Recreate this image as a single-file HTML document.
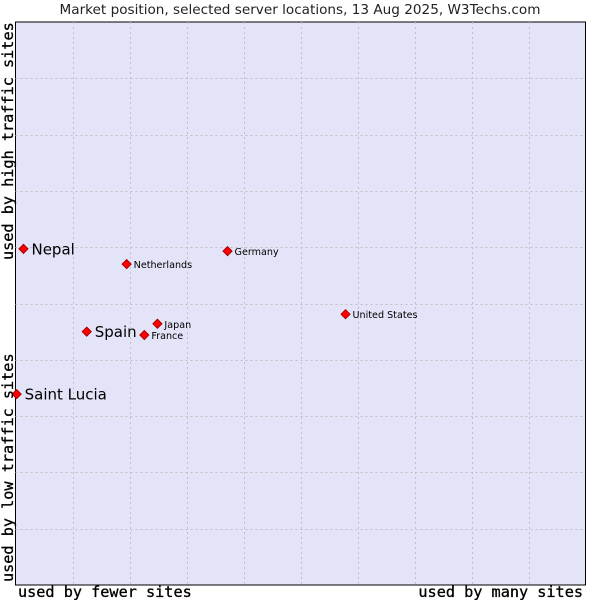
<!DOCTYPE html>
<html><head><meta charset="utf-8"><style>
body{margin:0;background:#fff;width:600px;height:600px;overflow:hidden}
svg{display:block}
</style></head><body>
<svg id="chart" width="600" height="600" xmlns="http://www.w3.org/2000/svg">
<text x="300" y="14" text-anchor="middle" font-family="DejaVu Sans, sans-serif" font-size="13.6" fill="#222">Market position, selected server locations, 13 Aug 2025, W3Techs.com</text>
<rect x="15.5" y="22" width="570" height="563" fill="#e3e4f8" stroke="#000" stroke-width="1"/>
<g id="grid"></g>
<g id="points"></g>
<text x="18" y="597" font-family="DejaVu Sans Mono, monospace" font-size="15.2" stroke="#000" stroke-width="0.3" fill="#000">used by fewer sites</text>
<text x="583" y="597" text-anchor="end" font-family="DejaVu Sans Mono, monospace" font-size="15.2" stroke="#000" stroke-width="0.3" fill="#000">used by many sites</text>
<text transform="translate(13,582) rotate(-90)" font-family="DejaVu Sans Mono, monospace" font-size="15.2" stroke="#000" stroke-width="0.3" fill="#000">used by low traffic sites</text>
<text transform="translate(13,260) rotate(-90)" font-family="DejaVu Sans Mono, monospace" font-size="15.2" stroke="#000" stroke-width="0.3" fill="#000">used by high traffic sites</text>
</svg>
<script>
const names = ["Nepal","Netherlands","Germany","United States","Japan","France","Spain","Saint Lucia"];
const xValues = [1.4,19.5,37.2,57.9,24.9,22.6,12.5,0.2];
const yValues = [59.7,57.0,59.3,48.1,46.4,44.4,45.0,33.9];
const highlighted = [true,false,false,false,false,false,true,true];
const NS="http://www.w3.org/2000/svg";
const L=15.5,R=585.5,T=22,B=585;
function sx(v){return L+(R-L)*v/100;}
function sy(v){return B-(B-T)*v/100;}
const grid=document.getElementById('grid');
for(let i=1;i<10;i++){
  const gx=document.createElementNS(NS,'line');
  
  
  const x=Math.round(sx(i*10))+0.5;
  gx.setAttribute('x1',x);gx.setAttribute('x2',x);gx.setAttribute('y1',T);gx.setAttribute('y2',B);
  gx.setAttribute('stroke','#c0c0c0');gx.setAttribute('stroke-dasharray','2,3');
  grid.appendChild(gx);
  const gy=document.createElementNS(NS,'line');
  
  
  const y=Math.round(sy(i*10))+0.5;
  gy.setAttribute('y1',y);gy.setAttribute('y2',y);gy.setAttribute('x1',L);gy.setAttribute('x2',R);
  gy.setAttribute('stroke','#c0c0c0');gy.setAttribute('stroke-dasharray','2,3');
  grid.appendChild(gy);
}
const pts=document.getElementById('points');
names.forEach((n,i)=>{
  const x=sx(xValues[i]),y=sy(yValues[i]);
  const d=document.createElementNS(NS,'polygon');
  
  
  d.setAttribute('points',`${x},${y-4.5} ${x+4.5},${y} ${x},${y+4.5} ${x-4.5},${y}`);
  d.setAttribute('fill','#f00');d.setAttribute('stroke','#a00');d.setAttribute('stroke-width','1');
  pts.appendChild(d);
  const t=document.createElementNS(NS,'text');
  
  
  const big=highlighted[i];
  t.setAttribute('x',x+(big?8:7));
  t.setAttribute('y',y+(big?5.5:4));
  t.setAttribute('font-family','DejaVu Sans, sans-serif');
  t.setAttribute('font-size',big?'15':'9.6');
  t.setAttribute('fill','#000');
  t.textContent=n;
  pts.appendChild(t);
});
</script>
</body></html>
